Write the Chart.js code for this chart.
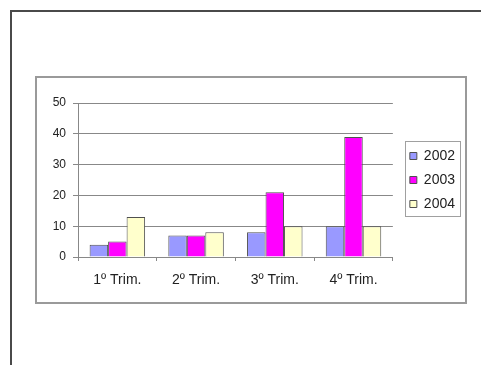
<!DOCTYPE html>
<html><head><meta charset="utf-8">
<script src="https://cdn.jsdelivr.net/npm/chart.js@4/dist/chart.umd.min.js"></script>
<style>
html,body{margin:0;padding:0;background:#fff;width:481px;height:365px;overflow:hidden;}
#outer{position:absolute;left:10px;top:10px;width:480px;height:370px;border-left:2px solid #4a4a4a;border-top:2px solid #4a4a4a;}
#inner{position:absolute;left:35px;top:76px;width:428px;height:224px;border:2px solid #9a9a9a;}
#wrap{position:absolute;left:37px;top:78px;width:428px;height:224px;}
</style></head>
<body>
<div id="outer"></div>
<div id="inner"></div>
<div id="wrap"><canvas id="c" width="428" height="224"></canvas></div>
<script>
const categories = ["1º Trim.", "2º Trim.", "3º Trim.", "4º Trim."];
const seriesNames = ["2002", "2003", "2004"];
const values2002 = [4, 7, 8, 10];
const values2003 = [5, 7, 21, 39];
const values2004 = [13, 8, 10, 10];
const yTicks = [0, 10, 20, 30, 40, 50];

const colors = ["#9999ff", "#ff00ff", "#ffffcc"];
const legendBox = {
  id: 'legendBox',
  afterDraw(chart) {
    const lg = chart.legend;
    if (!lg || !lg.legendHitBoxes.length) return;
    const hb = lg.legendHitBoxes;
    const left = Math.min(...hb.map(h => h.left)) - 5;
    const right = Math.max(...hb.map(h => h.left + h.width)) + 5;
    const top = hb[0].top - 8;
    const bottom = hb[hb.length - 1].top + hb[hb.length - 1].height + 5;
    const ctx = chart.ctx;
    ctx.save();
    ctx.strokeStyle = '#a0a0a0';
    ctx.lineWidth = 1;
    ctx.strokeRect(Math.round(left) + 0.5, Math.round(top) + 0.5, Math.round(right - left), Math.round(bottom - top));
    ctx.restore();
  }
};

const font12 = {family: 'Liberation Sans', size: 12};
const font14 = {family: 'Liberation Sans', size: 14};

new Chart(document.getElementById('c'), {
  type: 'bar',
  data: {
    labels: categories,
    datasets: [
      {label: seriesNames[0], data: values2002, backgroundColor: colors[0]},
      {label: seriesNames[1], data: values2003, backgroundColor: colors[1]},
      {label: seriesNames[2], data: values2004, backgroundColor: colors[2]}
    ].map(d => Object.assign(d, {borderColor: '#505050', borderWidth: 1, categoryPercentage: 0.705, barPercentage: 1, yAxisID: 'y'}))
  },
  options: {
    responsive: false,
    animation: false,
    layout: {padding: {left: 0, right: 0, top: 25, bottom: 0}},
    plugins: {
      legend: {
        position: 'right',
        align: 'center',
        fullSize: false,
        labels: {boxWidth: 7, boxHeight: 7, padding: 10, color: '#222', font: font14}
      },
      tooltip: {enabled: false}
    },
    scales: {
      x: {
        grid: {display: true, drawOnChartArea: false, drawTicks: true, tickLength: 4, color: '#888'},
        border: {color: '#888', width: 1},
        ticks: {color: '#222', font: font14, padding: 11},
        afterFit: ax => { ax.height = 45; }
      },
      y: {
        min: 0, max: 50,
        afterBuildTicks: ax => { ax.ticks = yTicks.map(v => ({value: v})); },
        afterFit: ax => { ax.width = 41; },
        grid: {color: '#888', tickLength: 5},
        border: {color: '#888', width: 1},
        ticks: {color: '#222', font: font12, padding: 7}
      },
      y2: {
        position: 'right',
        min: 0, max: 50,
        grid: {display: false},
        border: {display: false},
        ticks: {display: false},
        afterFit: ax => { ax.width = 7; }
      }
    }
  },
  plugins: [legendBox]
});
</script>
</body></html>
